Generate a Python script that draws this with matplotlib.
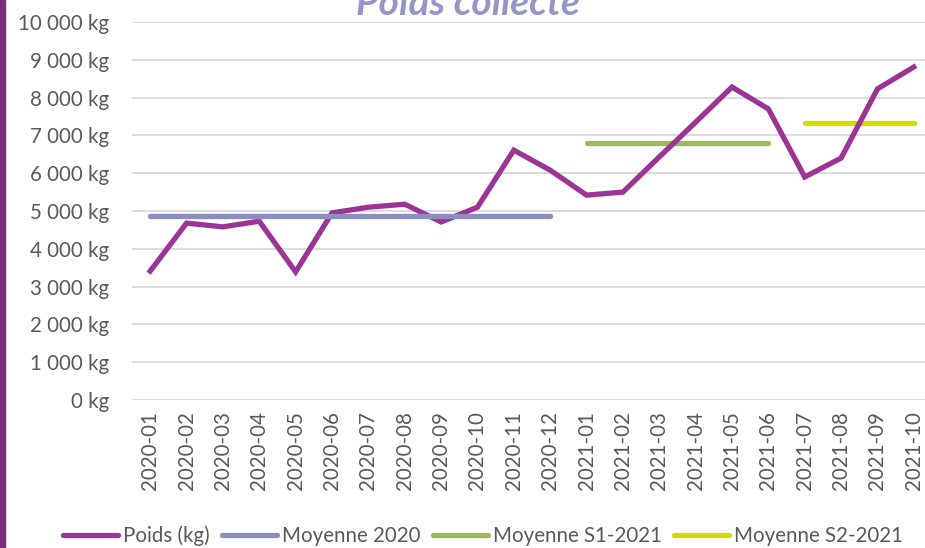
import matplotlib
matplotlib.use("Agg")
import matplotlib.pyplot as plt
from matplotlib.ticker import FuncFormatter
from matplotlib.lines import Line2D

months = ["2020-01", "2020-02", "2020-03", "2020-04", "2020-05", "2020-06",
          "2020-07", "2020-08", "2020-09", "2020-10", "2020-11", "2020-12",
          "2021-01", "2021-02", "2021-03", "2021-04", "2021-05", "2021-06",
          "2021-07", "2021-08", "2021-09", "2021-10"]
poids = [3410, 4680, 4580, 4730, 3390, 4950, 5100, 5180, 4710, 5100, 6610, 6080,
         5420, 5500, 6430, 7350, 8280, 7700, 5900, 6400, 8230, 8810]
moy_2020 = 4870
moy_s1_2021 = 6790
moy_s2_2021 = 7340

plt.rcParams['font.family'] = ['Lato', 'DejaVu Sans']

fig = plt.figure(figsize=(9.25, 5.48), dpi=100)
W, H = 925, 548
ax = fig.add_axes([132 / W, 1 - 400 / H, (932 - 132) / W, (400 - 22) / H])

x = list(range(len(months)))
c_poids = "#9B3495"
c_2020 = "#8C8CBE"
c_s1 = "#9BBB59"
c_s2 = "#D5DA00"
lw = 3.8
fs = 14.8

ax.plot(x, poids, color=c_poids, lw=lw, solid_joinstyle='miter', zorder=3)
ax.plot(x[0:12], [moy_2020] * 12, color=c_2020, lw=lw, solid_capstyle='round', zorder=4)
ax.plot(x[12:18], [moy_s1_2021] * 6, color=c_s1, lw=lw, solid_capstyle='round', zorder=2)
ax.plot(x[18:22], [moy_s2_2021] * 4, color=c_s2, lw=lw, solid_capstyle='round', zorder=2)

ax.set_xlim(-0.5, len(months) - 0.5)
ax.set_ylim(0, 10000)
ax.set_yticks(range(0, 10001, 1000))
ax.yaxis.set_major_formatter(FuncFormatter(lambda v, p: f"{int(v):,} kg".replace(",", " ")))
ax.set_xticks(x)
ax.set_xticklabels(months, rotation=90)
ax.grid(axis='y', color='#D9D9D9', lw=1.3)
ax.set_axisbelow(True)
for s in ax.spines.values():
    s.set_visible(False)
ax.tick_params(length=0, labelsize=fs, colors='#595959')
ax.tick_params(axis='y', pad=16.5)
ax.tick_params(axis='x', pad=8)

fig.text(468 / W, 1 - 15 / H, "Poids collecté", ha='center', va='baseline',
         fontsize=28, fontweight='bold', fontstyle='italic', color='#9696C6')

# left purple bar
fig.patches.append(plt.Rectangle((0, 0), 5 / W, 1, transform=fig.transFigure,
                                 color='#7B2A80', zorder=0))

handles = [Line2D([], [], color=c_poids, lw=lw, solid_capstyle='round'),
           Line2D([], [], color=c_2020, lw=lw, solid_capstyle='round'),
           Line2D([], [], color=c_s1, lw=lw, solid_capstyle='round'),
           Line2D([], [], color=c_s2, lw=lw, solid_capstyle='round')]
labels = ["Poids (kg)", "Moyenne 2020", "Moyenne S1-2021", "Moyenne S2-2021"]
leg = fig.legend(handles, labels, loc='center', bbox_to_anchor=(483 / W, 1 - 536 / H),
                 ncol=4, frameon=False, fontsize=fs, handlelength=2.67,
                 handletextpad=0.25, columnspacing=0.6, borderpad=0)
for t in leg.get_texts():
    t.set_color('#595959')

fig.savefig("out.png", dpi=100)
